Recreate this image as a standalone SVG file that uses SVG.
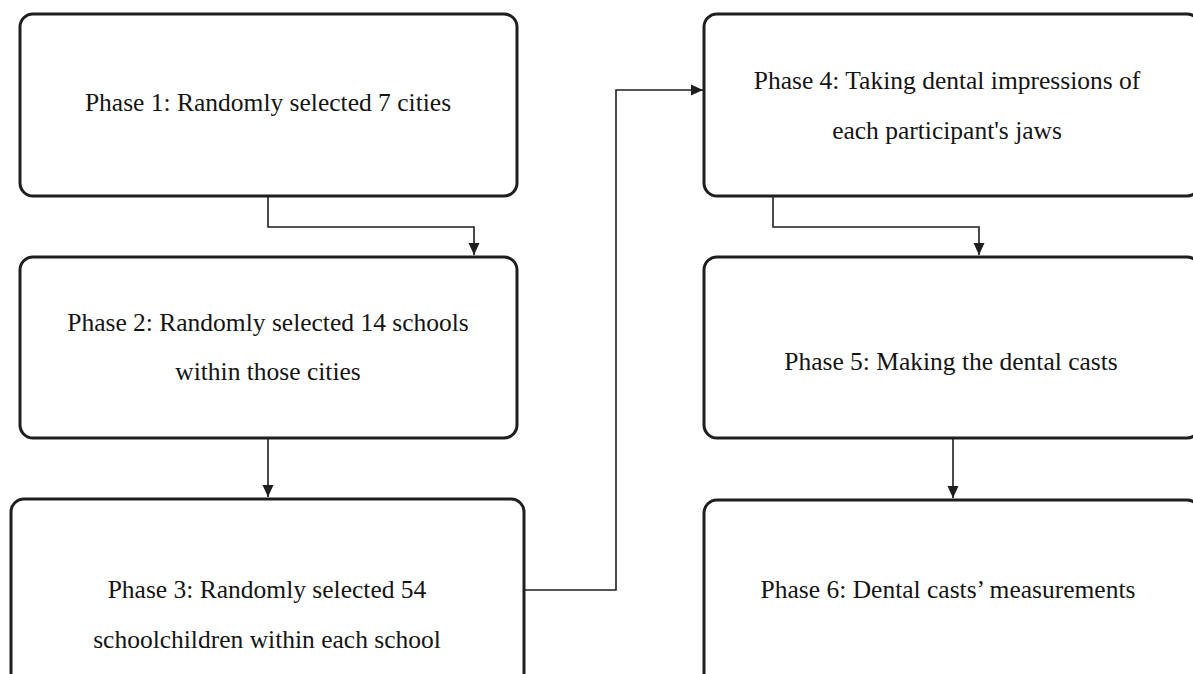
<svg xmlns="http://www.w3.org/2000/svg" width="1193" height="674" viewBox="0 0 1193 674">
<defs>
<style>
.box{fill:#fff;stroke:#1e1e1e;stroke-width:3}
.lbl{font-family:"Liberation Serif","Times New Roman",serif;font-size:25.5px;fill:#141414;text-anchor:middle}
.con{fill:none;stroke:#1e1e1e;stroke-width:1.6}
</style>
<marker id="ah" viewBox="0 0 12 12" refX="12" refY="6" markerWidth="12" markerHeight="12" markerUnits="userSpaceOnUse" orient="auto">
<path d="M0,0.5 L12,6 L0,11.5 Z" fill="#1e1e1e"/>
</marker>
</defs>
<rect width="1193" height="674" fill="#fff"/>
<g id="connectors">
<path class="con" d="M268,197 V227 H474 V255" marker-end="url(#ah)"/>
<path class="con" d="M268,438 V497" marker-end="url(#ah)"/>
<path class="con" d="M524,590 H616 V90 H703" marker-end="url(#ah)"/>
<path class="con" d="M773,196 V227 H979 V255" marker-end="url(#ah)"/>
<path class="con" d="M953,438 V498" marker-end="url(#ah)"/>
</g>
<g id="phase1">
<rect class="box" x="20" y="14" width="497" height="182" rx="13"/>
<text class="lbl" x="268" y="111">Phase 1: Randomly selected 7 cities</text>
</g>
<g id="phase2">
<rect class="box" x="20" y="257" width="497" height="181" rx="13"/>
<text class="lbl" x="268" y="331">Phase 2: Randomly selected 14 schools</text>
<text class="lbl" x="268" y="380">within those cities</text>
</g>
<g id="phase3">
<rect class="box" x="11" y="499" width="513" height="232" rx="13"/>
<text class="lbl" x="267" y="598">Phase 3: Randomly selected 54</text>
<text class="lbl" x="267" y="648">schoolchildren within each school</text>
</g>
<g id="phase4">
<rect class="box" x="704" y="14" width="496" height="182" rx="13"/>
<text class="lbl" x="947" y="89">Phase 4: Taking dental impressions of</text>
<text class="lbl" x="947" y="139">each participant's jaws</text>
</g>
<g id="phase5">
<rect class="box" x="704" y="257" width="496" height="181" rx="13"/>
<text class="lbl" x="951" y="370">Phase 5: Making the dental casts</text>
</g>
<g id="phase6">
<rect class="box" x="704" y="500" width="496" height="232" rx="13"/>
<text class="lbl" x="948" y="598">Phase 6: Dental casts’ measurements</text>
</g>
</svg>
